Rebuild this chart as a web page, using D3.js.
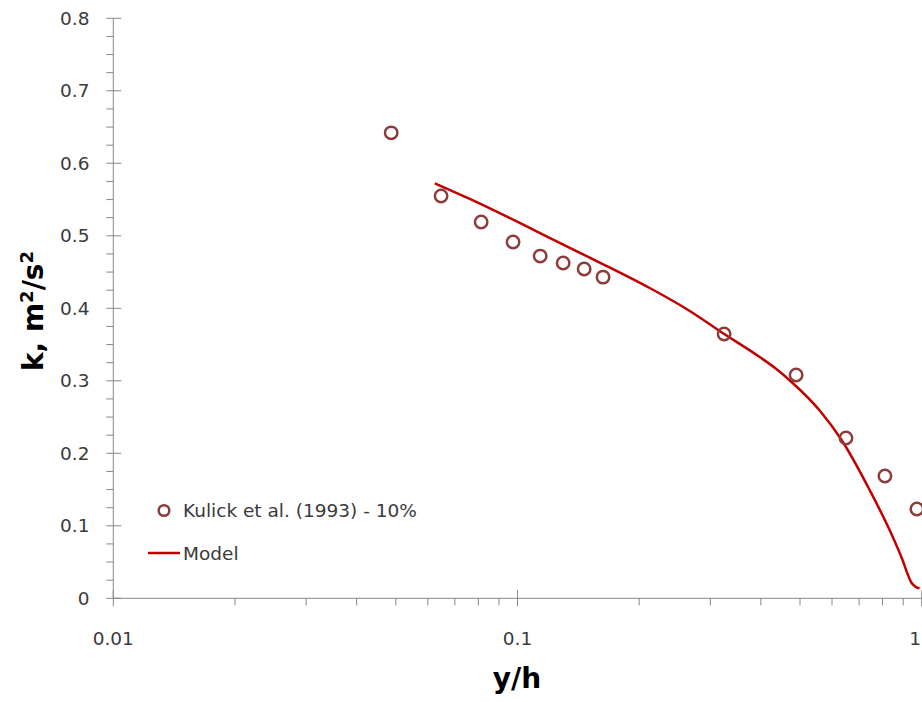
<!DOCTYPE html>
<html>
<head>
<meta charset="utf-8">
<script src="https://cdn.jsdelivr.net/npm/d3@7"></script>
<style>
  html, body { margin: 0; padding: 0; background: #fff; }
  svg { display: block; }
  text { font-family: "DejaVu Sans", "Open Sans", sans-serif; }
</style>
</head>
<body>
<div id="chart"></div>
<script>
// Measured turbulent kinetic energy, Kulick et al. (1993), 10% mass loading
const measY = [0.0487, 0.0647, 0.0813, 0.0975, 0.1138, 0.1297, 0.1462, 0.1628, 0.3245, 0.489, 0.6496, 0.811, 0.973];
const measK = [0.642, 0.555, 0.519, 0.4915, 0.472, 0.4625, 0.4542, 0.443, 0.3646, 0.308, 0.2211, 0.1687, 0.1232];

// Model prediction
const modelY = [0.0624, 0.0762, 0.1013, 0.1347, 0.1625, 0.2124, 0.2668, 0.3219, 0.3974, 0.4353, 0.4795, 0.5593, 0.6336, 0.7433, 0.8474, 0.8986, 0.9228, 0.9425, 0.9632, 0.988];
const modelK = [0.5724, 0.5508, 0.5177, 0.4832, 0.4611, 0.428, 0.3963, 0.3659, 0.3328, 0.317, 0.297, 0.259, 0.2183, 0.1494, 0.085, 0.0514, 0.0335, 0.0218, 0.0163, 0.0138];

// Axis ticks
const xTickValues = [0.01, 0.1, 1];
const xTickLabels = ["0.01", "0.1", "1"];
const yTickValues = [0, 0.1, 0.2, 0.3, 0.4, 0.5, 0.6, 0.7, 0.8];
const yTickLabels = ["0", "0.1", "0.2", "0.3", "0.4", "0.5", "0.6", "0.7", "0.8"];

const seriesNames = ["Kulick et al. (1993) - 10%", "Model"];
const xTitle = "y/h";

const W = 922, H = 702;
const plotLeft = 113.3, plotRight = 921.7, plotTop = 18.3, plotBottom = 598.3;

const svg = d3.select("#chart").append("svg")
  .attr("width", W).attr("height", H);

const x = d3.scaleLog().domain([0.01, 1]).range([plotLeft, plotRight]);
const y = d3.scaleLinear().domain([0, 0.8]).range([plotBottom, plotTop]);

const axisColor = "#878787";
const labelColor = "#3a3a3a";

// y axis with minor ticks every 0.025
const gy = svg.append("g");
gy.append("line").attr("x1", plotLeft).attr("x2", plotLeft).attr("y1", plotTop).attr("y2", plotBottom)
  .attr("stroke", axisColor).attr("stroke-width", 1);
const yMinor = d3.range(0, 32).map(i => i * 0.025).filter(v => Math.abs(v * 10 - Math.round(v * 10)) > 1e-6);
gy.selectAll("line.minor").data(yMinor).join("line")
  .attr("class", "minor")
  .attr("x1", plotLeft - 7).attr("x2", plotLeft)
  .attr("y1", d => y(d)).attr("y2", d => y(d))
  .attr("stroke", axisColor);
gy.selectAll("line.major").data(yTickValues).join("line")
  .attr("class", "major")
  .attr("x1", plotLeft - 7).attr("x2", plotLeft + 8)
  .attr("y1", d => y(d)).attr("y2", d => y(d))
  .attr("stroke", axisColor);
gy.selectAll("text").data(yTickValues).join("text")
  .attr("x", 89.5).attr("y", d => y(d))
  .attr("dy", "0.36em")
  .attr("text-anchor", "end")
  .attr("font-size", 18.5)
  .attr("fill", labelColor)
  .text((d, i) => yTickLabels[i]);

// logarithmic x axis with minor ticks at 2..9 of each decade
const gx = svg.append("g");
gx.append("line").attr("x1", plotLeft).attr("x2", plotRight).attr("y1", plotBottom).attr("y2", plotBottom)
  .attr("stroke", axisColor);
const xMinor = [];
[0.01, 0.1].forEach(dec => { for (let m = 2; m <= 9; m++) xMinor.push(dec * m); });
gx.selectAll("line.minor").data(xMinor).join("line")
  .attr("class", "minor")
  .attr("x1", d => x(d)).attr("x2", d => x(d))
  .attr("y1", plotBottom).attr("y2", plotBottom + 7)
  .attr("stroke", axisColor);
gx.selectAll("line.major").data(xTickValues).join("line")
  .attr("class", "major")
  .attr("x1", d => x(d)).attr("x2", d => x(d))
  .attr("y1", plotBottom - 8).attr("y2", plotBottom + 8)
  .attr("stroke", axisColor);
// the last label sits at the right edge, so it is end-anchored to stay visible
gx.selectAll("text").data(xTickValues).join("text")
  .attr("x", (d, i) => i === xTickValues.length - 1 ? W - 1 : x(d)).attr("y", 645)
  .attr("text-anchor", (d, i) => i === xTickValues.length - 1 ? "end" : "middle")
  .attr("font-size", 18.5)
  .attr("fill", labelColor)
  .text((d, i) => xTickLabels[i]);

// axis titles
svg.append("text")
  .attr("x", 517).attr("y", 688)
  .attr("text-anchor", "middle")
  .attr("font-size", 28).attr("font-weight", "bold")
  .attr("fill", "#000")
  .text(xTitle);

const yt = svg.append("text")
  .attr("transform", "translate(43,311) rotate(-90)")
  .attr("text-anchor", "middle")
  .attr("font-size", 28).attr("font-weight", "bold")
  .attr("fill", "#000");
yt.append("tspan").text("k, m");
yt.append("tspan").attr("dy", -10).attr("font-size", 18).text("2");
yt.append("tspan").attr("dy", 10).text("/s");
yt.append("tspan").attr("dy", -10).attr("font-size", 18).text("2");

// model curve
const lineColor = "#C00000";
const modelPts = modelY.map((v, i) => [v, modelK[i]]);
svg.append("path")
  .datum(modelPts)
  .attr("fill", "none")
  .attr("stroke", lineColor)
  .attr("stroke-width", 2.5)
  .attr("stroke-linejoin", "round")
  .attr("d", d3.line().x(d => x(d[0])).y(d => y(d[1])).curve(d3.curveMonotoneX));

// measured points
const markerColor = "#8E3B3B";
svg.append("g").selectAll("circle")
  .data(measY.map((v, i) => [v, measK[i]]))
  .join("circle")
  .attr("cx", d => x(d[0])).attr("cy", d => y(d[1]))
  .attr("r", 6.2)
  .attr("fill", "none")
  .attr("stroke", markerColor)
  .attr("stroke-width", 2.5);

// legend
const lg = svg.append("g");
lg.append("circle").attr("cx", 164).attr("cy", 510.5).attr("r", 5.3)
  .attr("fill", "none").attr("stroke", markerColor).attr("stroke-width", 2.5);
lg.append("text").attr("x", 183).attr("y", 510.5).attr("dy", "0.36em")
  .attr("font-size", 18.5).attr("fill", labelColor).text(seriesNames[0]);
lg.append("line").attr("x1", 148).attr("x2", 180).attr("y1", 553).attr("y2", 553)
  .attr("stroke", lineColor).attr("stroke-width", 2.5);
lg.append("text").attr("x", 183).attr("y", 553).attr("dy", "0.36em")
  .attr("font-size", 18.5).attr("fill", labelColor).text(seriesNames[1]);
</script>
</body>
</html>
